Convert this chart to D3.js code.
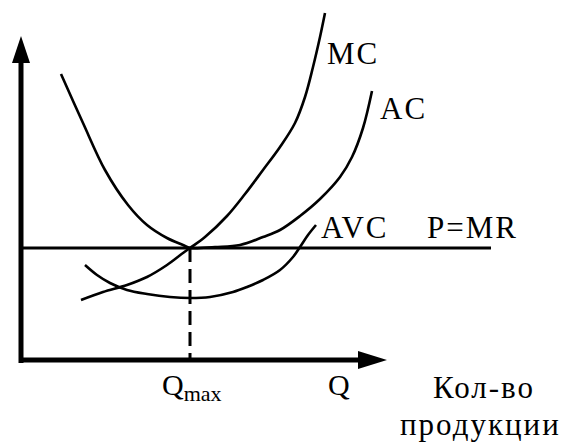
<!DOCTYPE html>
<html>
<head>
<meta charset="utf-8">
<script src="https://cdn.jsdelivr.net/npm/d3@7"></script>
<style>
  html, body { margin: 0; padding: 0; background: #fff; }
</style>
</head>
<body>
<div id="chart"></div>
<script>
// Curves: [quantity, cost]
const acPoints = [
  [4.0, 28.6], [6.2, 23.7], [8.4, 19.0], [10.7, 15.5], [12.6, 13.5], [14.6, 12.2],
  [16.2, 11.5], [16.9, 11.2], [19.4, 11.3], [21.9, 11.5], [24.2, 12.3], [25.9, 13.0],
  [27.9, 14.4], [29.9, 16.1], [31.9, 18.3], [33.1, 20.3], [34.2, 23.2], [35.1, 26.9]
];
const mcPoints = [
  [6.0, 6.0], [8.2, 6.8], [10.6, 7.5], [12.6, 8.3], [14.6, 9.5], [16.2, 10.7], [16.9, 11.2],
  [18.4, 12.3], [20.6, 14.4], [22.4, 16.6], [24.2, 19.0], [25.9, 21.3], [27.4, 23.7],
  [28.4, 26.3], [29.2, 29.3], [29.9, 32.3], [30.4, 34.7]
];
const avcPoints = [
  [6.4, 9.5], [7.6, 8.5], [8.9, 7.7], [10.6, 7.0], [12.6, 6.6], [14.9, 6.3], [16.9, 6.2],
  [18.9, 6.3], [21.2, 6.8], [22.6, 7.3], [24.2, 8.0], [25.9, 9.0], [27.2, 10.3],
  [27.9, 11.3], [28.7, 12.5], [29.5, 13.5]
];
const price = 11.2;      // P = MR
const priceEnd = 47;     // where the price line stops
const qMax = 16.9;
const xAxisEnd = 36.6;
const yAxisEnd = 32.4;

const width = 564, height = 448;
const serif = '"Liberation Serif", "DejaVu Serif", serif';

const svg = d3.select('#chart').append('svg')
  .attr('width', width)
  .attr('height', height)
  .attr('font-family', serif);

const x = d3.scaleLinear().domain([0, 47]).range([21, 491]);
const y = d3.scaleLinear().domain([0, 32.4]).range([360, 36]);

const line = d3.line()
  .x(d => x(d[0]))
  .y(d => y(d[1]))
  .curve(d3.curveCatmullRom.alpha(0.5));

// axes
svg.append('line')
  .attr('x1', x(0)).attr('y1', y(0) + 3)
  .attr('x2', x(0)).attr('y2', y(yAxisEnd) + 20)
  .attr('stroke', '#000').attr('stroke-width', 5);
svg.append('path')
  .attr('d', `M${x(0)},${y(yAxisEnd)} L${x(0) + 9},${y(yAxisEnd) + 27} L${x(0) - 9},${y(yAxisEnd) + 27} Z`)
  .attr('fill', '#000');

svg.append('line')
  .attr('x1', x(0) - 2).attr('y1', y(0))
  .attr('x2', x(xAxisEnd) - 20).attr('y2', y(0))
  .attr('stroke', '#000').attr('stroke-width', 5);
svg.append('path')
  .attr('d', `M${x(xAxisEnd)},${y(0)} L${x(xAxisEnd) - 29},${y(0) - 9} L${x(xAxisEnd) - 29},${y(0) + 9} Z`)
  .attr('fill', '#000');

// P = MR
svg.append('line')
  .attr('x1', x(0)).attr('y1', y(price))
  .attr('x2', x(priceEnd)).attr('y2', y(price))
  .attr('stroke', '#000').attr('stroke-width', 3);

// Qmax dashed
svg.append('line')
  .attr('x1', x(qMax)).attr('y1', y(price))
  .attr('x2', x(qMax)).attr('y2', y(0))
  .attr('stroke', '#000').attr('stroke-width', 3)
  .attr('stroke-dasharray', '14,7');

// curves
[acPoints, mcPoints, avcPoints].forEach(pts => {
  svg.append('path')
    .attr('d', line(pts))
    .attr('fill', 'none')
    .attr('stroke', '#000')
    .attr('stroke-width', 2.6);
});

// labels
const label = (tx, ty, s, size) => svg.append('text')
  .attr('x', tx).attr('y', ty)
  .attr('font-family', serif)
  .attr('font-size', size || 31)
  .attr('letter-spacing', 2)
  .attr('fill', '#000')
  .text(s);

label(327, 64, 'MC');
label(380, 119, 'AC');
label(321, 238, 'AVC');
label(427, 238, 'P=MR');
label(328, 395, 'Q', 30);
label(433, 398, 'Кол-во');
label(400, 435, 'продукции');

const qm = svg.append('text').attr('x', 162).attr('y', 395)
  .attr('font-family', serif).attr('font-size', 30);
qm.append('tspan').text('Q');
qm.append('tspan').attr('dy', 6).attr('font-size', 22).text('max');
</script>
</body>
</html>
